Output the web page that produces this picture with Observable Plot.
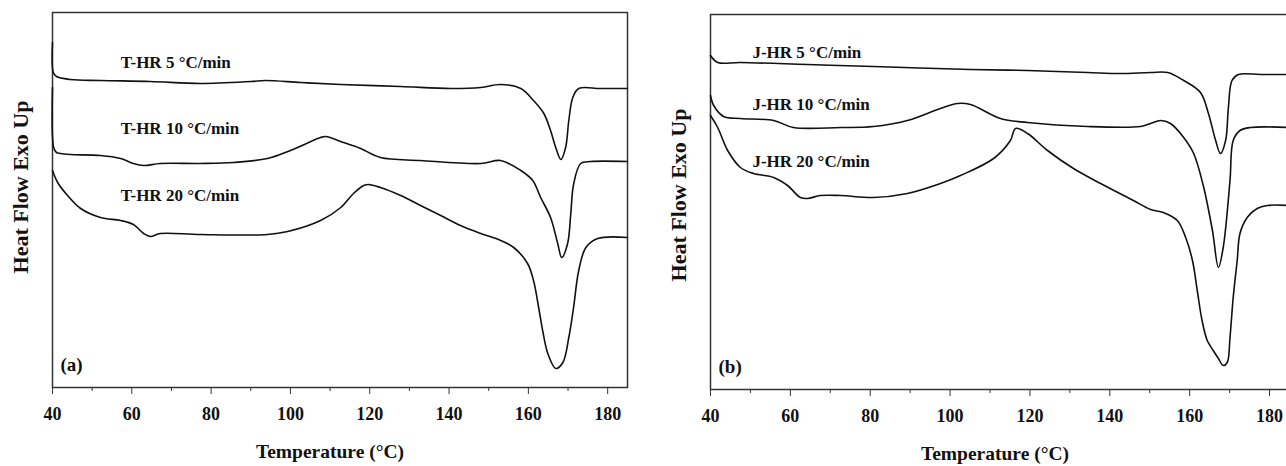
<!DOCTYPE html>
<html>
<head>
<meta charset="utf-8">
<script src="https://cdn.jsdelivr.net/npm/d3@7"></script>
<script src="https://cdn.jsdelivr.net/npm/@observablehq/plot@0.6"></script>
<style>
  html, body { margin: 0; padding: 0; background: #fff; overflow: hidden; }
  #wrap { position: relative; width: 1286px; height: 466px; overflow: hidden; }
  #wrap svg { position: absolute; top: 0; }
</style>
</head>
<body>
<div id="wrap"></div>
<script>
// ---------- DATA (Heat flow, arbitrary units, vs Temperature °C) ----------
const majorTicks = [40, 60, 80, 100, 120, 140, 160, 180];
const minorTicks = [50, 70, 90, 110, 130, 150, 170];

// Panel (a)
const THR5 = [[40,345],[40.2,315],[41,311],[44.5,308],[52.1,307],[64.7,306],[77.3,304],[90,306],[93.7,307],[102.6,305],[112.7,303],[127.8,301],[140.4,299],[148,300],[153,303],[158.1,299],[161.3,287],[163.9,274],[165.6,257],[166.9,240],[168.2,228],[169.4,240],[170.2,267],[171.2,290],[172.7,299],[178.2,299],[185,299]];
const THR10 = [[40,300],[40.3,240],[41,235],[42,234],[44.5,233],[52.1,232],[57.2,229],[60.4,224],[63,222],[67.2,224],[77.3,224],[85.7,225],[94.2,229],[100,237],[107.6,250],[108.9,251],[112.7,246],[117.7,239],[122.7,230],[132.8,227],[148,224],[153,227],[158.1,217],[161.1,207],[163.1,190],[165.6,170],[167.4,144],[168.4,130],[169.9,144],[170.7,174],[171.4,203],[173.2,224],[175.7,226],[185,226]];
const THR20 = [[40,217],[41.3,205],[43.8,192],[47.1,179],[52.1,170],[57.2,167],[60.4,163],[63,154],[64.7,151],[67.2,154],[77.3,153],[94.2,153],[99.3,156],[107.6,167],[112.7,180],[115.9,194],[118.5,202],[119.7,203],[122.7,200],[127.8,192],[132.8,182],[137.9,172],[142.9,162],[148,154],[153,147],[156.3,140],[159.8,124],[161.3,107],[162.6,80],[163.6,57],[164.9,34],[166.9,19],[168.7,25],[170.2,50],[171.4,80],[172.7,117],[174.5,140],[177.5,149],[185,150]];

// Panel (b)
const JHR5 = [[40,334],[41.8,327],[47.5,327],[64.3,325],[80.8,323],[105.1,320],[119.4,319],[134.4,317],[142.7,316],[150.2,317],[154.5,317],[158.5,309],[162.7,297],[164.7,276],[166.5,249],[167.7,236],[169,249],[169.7,282],[170.6,309],[172.2,315],[177.7,315],[185,315]];
const JHR10 = [[40,294],[40.8,284],[43.3,273],[47.5,271],[55.8,269],[60.8,262],[72.6,262],[80.8,263],[89.3,269],[97.6,281],[101.9,286],[105.1,285],[112.6,271],[119.4,267],[134.4,263],[147.7,263],[150.2,266],[152.7,269],[155.2,266],[158.5,252],[161,236],[163.4,204],[165.7,159],[167.2,122],[168.4,142],[170.1,209],[170.9,249],[172.6,259],[175.2,262],[185,262]];
const JHR20 = [[40,274],[41.8,262],[44.3,239],[47.5,222],[50.8,216],[55.8,212],[59.3,204],[62.5,192],[64.3,191],[67.5,194],[72.6,194],[80.8,192],[89.3,196],[97.6,206],[102.6,214],[110.9,231],[115.1,249],[116.4,261],[119.4,256],[124.4,239],[130.9,221],[137.7,206],[145.9,189],[150.2,180],[153.4,177],[156.9,169],[159,152],[160.7,129],[161.9,99],[163.1,69],[164.4,49],[165.9,39],[167.2,31],[168.4,24],[169.4,27],[170.1,52],[170.9,92],[171.9,129],[172.6,156],[174.4,172],[176.9,181],[179.4,184],[185,184]];

const seriesA = ["T-HR 5 °C/min", "T-HR 10 °C/min", "T-HR 20 °C/min"];
const seriesB = ["J-HR 5 °C/min", "J-HR 10 °C/min", "J-HR 20 °C/min"];
// label anchor points (°C, a.u.)
const labelPosA = [[57.2,325],[57.2,259],[57.2,192]];
const labelPosB = [[50.5,337],[50.5,285],[50.5,228]];

const xLabel = "Temperature (°C)";
const yLabel = "Heat Flow Exo Up";

// ---------- DRAW ----------
const FONT = "'Liberation Serif', 'Times New Roman', serif";
function panel({curves, names, labelPos, tag, left, width, mLeft, mRight, mTop, mBottom, titleDx, titleDy, yTitleDy}) {
  const labels = names.map((n, i) => ({name: n, T: labelPos[i][0], v: labelPos[i][1]}));
  const marks = [
    Plot.frame({stroke: "#333", strokeWidth: 1.5}),
    Plot.axisX(majorTicks, {tickSize: 7, tickPadding: 13, fontSize: 18, label: null, stroke: "#333"}),
    Plot.axisX(minorTicks, {tickSize: 4, tickFormat: () => "", label: null, stroke: "#333"}),
    ...curves.map(c => Plot.line(c, {x: d => d[0], y: d => d[1], stroke: "#111", strokeWidth: 1.6, curve: "catmull-rom"})),
    Plot.text(labels, {x: "T", y: "v", text: "name", textAnchor: "start", fontSize: 17, fill: "#111"}),
    Plot.text([tag], {frameAnchor: "bottom-left", dx: 8, dy: -17, fontSize: 19, textAnchor: "start", fill: "#111"}),
    Plot.text([yLabel], {frameAnchor: "left", textAnchor: "middle", dx: -32, dy: yTitleDy, rotate: -90, fontSize: 22, fill: "#111"}),
    Plot.text([xLabel], {frameAnchor: "bottom", dy: titleDy, dx: titleDx, fontSize: 19.5, fill: "#111"})
  ];
  const svg = Plot.plot({
    width, height: 466,
    marginLeft: mLeft, marginRight: mRight, marginTop: mTop, marginBottom: mBottom,
    x: {domain: [40, 185], label: null},
    y: {domain: [0, 375], axis: null},
    style: {fontFamily: FONT, fontWeight: "bold", color: "#111", background: "transparent", overflow: "visible"},
    marks
  });
  svg.style.left = left + "px";
  return svg;
}

const wrap = document.getElementById("wrap");
wrap.appendChild(panel({curves: [THR5, THR10, THR20], names: seriesA, labelPos: labelPosA, tag: "(a)",
  left: 0, width: 640, mLeft: 52, mRight: 13, mTop: 12, mBottom: 79, titleDx: -10, titleDy: 70, yTitleDy: -13}));
wrap.appendChild(panel({curves: [JHR5, JHR10, JHR20], names: seriesB, labelPos: labelPosB, tag: "(b)",
  left: 640, width: 660, mLeft: 70, mRight: 11, mTop: 14, mBottom: 77, titleDx: -5, titleDy: 70, yTitleDy: -7}));
</script>
</body>
</html>
